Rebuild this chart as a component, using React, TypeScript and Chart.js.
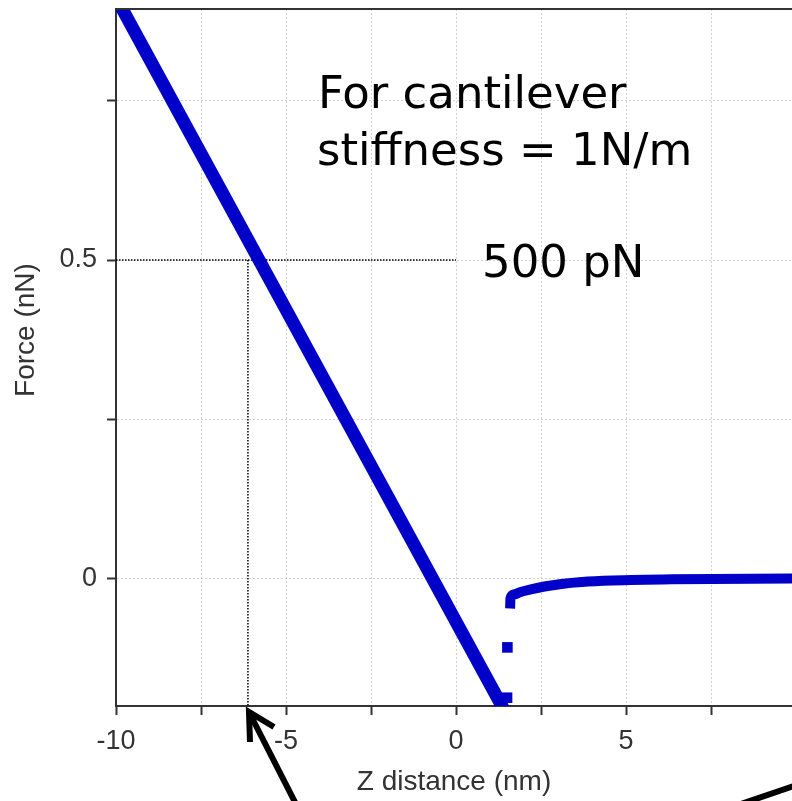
import React, { useEffect, useRef } from "react";
import { Chart, registerables } from "chart.js";

Chart.register(...registerables);

// Approach (contact) branch: straight line
const approachX = [-10, 1.4];
const approachY = [0.912, -0.205];
// Jump-off-contact isolated samples
const jumpX = [1.5, 1.51];
const jumpY = [-0.187, -0.108];
// Retract / non-contact branch
const retractX = [1.59, 1.6, 1.7, 1.9, 2.2, 2.6, 3.1, 3.7, 4.6, 6.35, 9.9];
const retractY = [-0.047, -0.031, -0.025, -0.021, -0.017, -0.0125, -0.0085, -0.0055, -0.0032, -0.0012, 0];
// Guide lines
const guideHX = [-10, 0];
const guideHY = [0.5, 0.5];
const guideVX = [-6.12, -6.12];
const guideVY = [0.5, -0.2];

const xTicks = [-10, -7.5, -5, -2.5, 0, 2.5, 5, 7.5];
const yTicks = [0, 0.25, 0.5, 0.75];
const xLabels = ["-10", "-5", "0", "5"];
const yLabels = ["0", "0.5"];

const xTitle = "Z distance (nm)";
const yTitle = "Force (nN)";
const noteLines = ["For cantilever", "stiffness = 1N/m"];
const forceNote = "500 pN";

const BLUE = "#0000c8";
const AXIS = "#333333";
const SANS = "'Liberation Sans', Arial, sans-serif";

const pts = (xs: number[], ys: number[]) => xs.map((x, i) => ({ x, y: ys[i] }));

const overlay = {
  id: "overlay",
  afterDraw(chart: any) {
    const { ctx, chartArea } = chart;
    ctx.save();
    // top frame line
    ctx.strokeStyle = AXIS;
    ctx.lineWidth = 2;
    ctx.beginPath();
    ctx.moveTo(chartArea.left, chartArea.top);
    ctx.lineTo(chartArea.right, chartArea.top);
    ctx.stroke();

    // y axis title
    ctx.save();
    ctx.translate(26, 330);
    ctx.rotate(-Math.PI / 2);
    ctx.fillStyle = AXIS;
    ctx.font = `28px ${SANS}`;
    ctx.textAlign = "center";
    ctx.textBaseline = "middle";
    ctx.fillText(yTitle, 0, 0);
    ctx.restore();

    // annotations
    const font = "'Comic Sans MS', 'DejaVu Sans', sans-serif";
    ctx.fillStyle = "#000";
    ctx.textBaseline = "alphabetic";
    ctx.textAlign = "left";
    ctx.font = `45px ${font}`;
    ctx.fillText(noteLines[0], 318, 108);
    ctx.fillText(noteLines[1], 317, 165);
    ctx.fillText(forceNote, 482, 277);

    // arrows
    ctx.strokeStyle = "#000";
    ctx.lineWidth = 6;
    ctx.lineCap = "butt";
    ctx.lineJoin = "miter";
    ctx.beginPath();
    ctx.moveTo(300, 812);
    ctx.lineTo(251, 716);
    ctx.stroke();
    ctx.beginPath();
    ctx.moveTo(250, 742);
    ctx.lineTo(249, 712);
    ctx.lineTo(274, 727);
    ctx.stroke();
    ctx.beginPath();
    ctx.moveTo(735, 806);
    ctx.lineTo(800, 784);
    ctx.stroke();
    ctx.restore();
  },
};

const noPad = (s: any) => {
  s.paddingLeft = 0;
  s.paddingRight = 0;
  s.paddingTop = 0;
  s.paddingBottom = 0;
};

export default function App() {
  const ref = useRef<HTMLCanvasElement | null>(null);
  useEffect(() => {
    if (!ref.current) return;
    const chart = new Chart(ref.current, {
      type: "scatter",
      data: {
        datasets: [
          {
            data: pts(approachX, approachY),
            showLine: true,
            borderColor: BLUE,
            borderWidth: 13,
            pointRadius: 0,
            borderCapStyle: "butt",
            clip: 0,
            order: 1,
          },
          {
            data: pts(retractX, retractY),
            showLine: true,
            borderColor: BLUE,
            borderWidth: 10,
            pointRadius: 0,
            cubicInterpolationMode: "monotone",
            borderCapStyle: "butt",
            borderJoinStyle: "round",
            clip: 0,
            order: 1,
          },
          {
            data: pts(jumpX, jumpY),
            showLine: false,
            backgroundColor: BLUE,
            borderWidth: 0,
            pointStyle: "rect",
            pointRadius: 7.5,
            clip: 0,
            order: 1,
          },
          {
            data: pts(guideHX, guideHY),
            showLine: true,
            borderColor: "#000",
            borderWidth: 1.5,
            borderDash: [1.5, 1.5],
            pointRadius: 0,
            order: 5,
          },
          {
            data: pts(guideVX, guideVY),
            showLine: true,
            borderColor: "#000",
            borderWidth: 1.5,
            borderDash: [1.5, 1.5],
            pointRadius: 0,
            order: 5,
          },
        ],
      },
      options: {
        animation: false,
        responsive: true,
        maintainAspectRatio: false,
        layout: { autoPadding: false, padding: { top: 9, right: 0, bottom: 0, left: 0 } },
        plugins: { legend: { display: false }, tooltip: { enabled: false } },
        scales: {
          x: {
            type: "linear",
            min: -10,
            max: 9.88,
            afterBuildTicks: (s: any) => {
              s.ticks = xTicks.map((v) => ({ value: v }));
            },
            afterFit: (s: any) => {
              s.height = 95;
              noPad(s);
            },
            ticks: {
              autoSkip: false,
              maxRotation: 0,
              padding: 10,
              color: AXIS,
              font: { family: SANS, size: 27 },
              callback: (v: any) => {
                const s = String(v);
                return xLabels.includes(s) ? s : "";
              },
            },
            grid: { color: "#d2d2d2", lineWidth: 1, tickLength: 9, tickColor: AXIS, tickWidth: 2 },
            border: { display: true, color: AXIS, width: 2, dash: [2, 2] },
            title: {
              display: true,
              text: xTitle,
              color: AXIS,
              font: { family: SANS, size: 28 },
              padding: { top: 0, bottom: 2 },
            },
          },
          y: {
            type: "linear",
            min: -0.2,
            max: 0.894,
            afterBuildTicks: (s: any) => {
              s.ticks = yTicks.map((v) => ({ value: v }));
            },
            afterFit: (s: any) => {
              s.width = 116;
              noPad(s);
            },
            ticks: {
              autoSkip: false,
              padding: 10,
              color: AXIS,
              font: { family: SANS, size: 27 },
              callback: (v: any) => {
                const s = String(v);
                return yLabels.includes(s) ? s : "";
              },
            },
            grid: { color: "#d2d2d2", lineWidth: 1, tickLength: 9, tickColor: AXIS, tickWidth: 2 },
            border: { display: true, color: AXIS, width: 2, dash: [2, 2] },
          },
        },
      },
      plugins: [overlay],
    });
    return () => chart.destroy();
  }, []);

  return (
    <div style={{ position: "fixed", left: 0, top: 0, width: 792, height: 801, background: "#fff" }}>
      <canvas ref={ref} />
    </div>
  );
}
